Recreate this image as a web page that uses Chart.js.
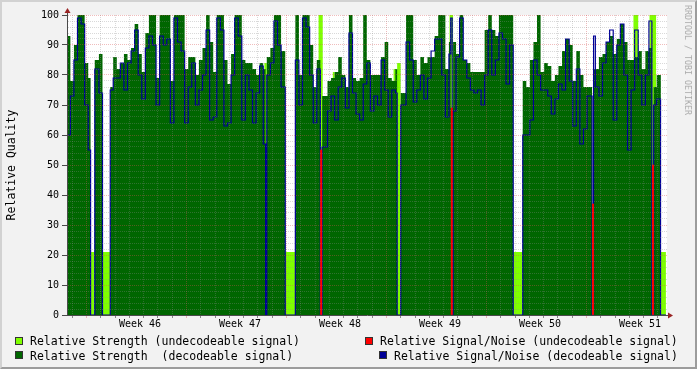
<!DOCTYPE html>
<html>
<head>
<meta charset="utf-8">
<script src="https://cdn.jsdelivr.net/npm/chart.js@4/dist/chart.umd.min.js"></script>
<style>
html, body { margin: 0; padding: 0; background: #f2f2f2; }
#wrap { position: relative; width: 697px; height: 369px; overflow: hidden; font-family: "DejaVu Sans Mono", monospace; color: #000; }
#frame { position: absolute; left: 0; top: 0; width: 697px; height: 369px; box-sizing: border-box;
  border: 2px solid; border-color: #d2d2d2 #9c9c9c #9c9c9c #d2d2d2; background: #f2f2f2; }
#chart { position: absolute; left: 0; top: 0; }
.txt { position: absolute; white-space: pre; font-size: 11.5px; line-height: 14px; }
.box { position: absolute; width: 6px; height: 6px; border: 1px solid #333; }
#ytitle { position: absolute; left: 11px; top: 165px; white-space: nowrap; font-size: 11.5px; line-height: 14px;
  transform: translate(-50%, -50%) rotate(-90deg); }
#mark { position: absolute; left: 688px; top: 60px; white-space: nowrap; font-size: 8.3px; line-height: 10px; color: #ababab;
  transform: translate(-50%, -50%) rotate(90deg); }
</style>
</head>
<body>
<div id="wrap">
  <div id="frame"></div>
  <canvas id="chart" width="697" height="369"></canvas>
  <div id="ytitle">Relative Quality</div>
  <div id="mark">RRDTOOL / TOBI OETIKER</div>
  <div class="box" style="left:15px;top:337px;background:#7fff00"></div>
  <div class="txt" style="left:30px;top:334px">Relative Strength (undecodeable signal)</div>
  <div class="box" style="left:15px;top:351px;background:#006600"></div>
  <div class="txt" style="left:30px;top:349px">Relative Strength  (decodeable signal)</div>
  <div class="box" style="left:365px;top:337px;background:#ff0000"></div>
  <div class="txt" style="left:380px;top:334px">Relative Signal/Noise (undecodeable signal)</div>
  <div class="box" style="left:379px;top:351px;background:#000096"></div>
  <div class="txt" style="left:394px;top:349px">Relative Signal/Noise (decodeable signal)</div>
</div>
<script>
// hours relative to the start of week 46; each value holds until the next hour entry
const hours = [
  -39, -33, -27, -21, -15, -9, -3, 1, 8, 15, 21, 34, 39, 45, 51, 57, 63, 69, 75, 81,
  87, 93, 99, 105, 111, 117, 123, 129, 135, 141, 147, 153, 159, 165, 171, 177, 183, 189, 195, 201,
  207, 213, 219, 225, 231, 237, 243, 249, 255, 261, 267, 273, 279, 285, 291, 295, 297, 303, 309, 315,
  321, 328, 345, 351, 357, 363, 369, 375, 381, 387, 390, 399, 405, 411, 417, 423, 429, 435, 441, 447,
  453, 459, 465, 471, 477, 483, 489, 495, 501, 507, 513, 516, 522, 531, 537, 543, 549, 555, 561, 567,
  573, 579, 585, 591, 597, 603, 606, 608.5, 610, 615, 621, 627, 633, 639, 645, 651, 657, 663, 669, 675,
  681, 687, 693, 699, 705, 711, 727, 733, 739, 745, 751, 757, 763, 769, 775, 781, 787, 793, 799, 805,
  811, 817, 823, 829, 835, 843.5, 846, 849, 855, 861, 867, 873, 879, 885, 891, 897, 903, 909, 915, 921,
  927, 933, 939, 944, 947, 952, 958.5, 959, 967.5
];
const strength = [
  93, 78, 90, 100, 100, 84, 79, 0, 85, 87, 0, 76, 86, 82, 84, 87, 85, 89, 97, 87,
  81, 94, 100, 100, 79, 100, 100, 100, 78, 100, 100, 100, 82, 86, 86, 80, 85, 89, 100, 91,
  81, 100, 100, 85, 77, 87, 100, 100, 85, 84, 84, 82, 80, 84, 82, 0, 86, 89, 100, 100,
  88, 0, 100, 80, 100, 100, 90, 76, 85, 0, 73, 78, 79, 81, 86, 80, 76, 100, 79, 78,
  79, 100, 85, 80, 80, 80, 86, 91, 79, 78, 82, 0, 74, 100, 100, 85, 80, 86, 84, 86,
  86, 93, 100, 100, 82, 91, 69, 69, 91, 87, 100, 85, 84, 81, 81, 81, 81, 95, 100, 95,
  93, 100, 100, 100, 100, 0, 78, 76, 85, 91, 100, 81, 84, 83, 78, 80, 83, 88, 92, 90,
  78, 88, 80, 76, 76, 0, 82, 82, 86, 87, 91, 93, 87, 92, 97, 91, 85, 85, 86, 88,
  82, 88, 89, 0, 76, 80, 80, 0, 0
];
const snr = [
  60, 73, 85, 99, 97, 70, 55, 0, 82, 74, 0, 75, 79, 79, 84, 75, 84, 88, 95, 80,
  72, 89, 93, 90, 70, 93, 90, 92, 64, 99, 91, 88, 64, 76, 84, 70, 75, 80, 95, 65,
  66, 99, 95, 63, 64, 80, 99, 93, 65, 80, 75, 64, 74, 83, 57, 0, 80, 84, 98, 90,
  76, 0, 85, 70, 99, 96, 80, 64, 82, 0, 56, 68, 73, 65, 76, 79, 69, 94, 74, 67,
  65, 77, 84, 68, 73, 70, 85, 75, 66, 75, 74, 0, 70, 91, 85, 71, 75, 80, 72, 79,
  88, 92, 92, 80, 66, 87, 99, 0, 68, 86, 99, 85, 79, 75, 74, 75, 70, 80, 95, 80,
  85, 94, 92, 77, 90, 0, 60, 60, 65, 85, 80, 75, 75, 73, 67, 72, 77, 75, 92, 78,
  63, 82, 57, 62, 73, 0, 93, 76, 73, 84, 91, 95, 65, 90, 97, 80, 55, 75, 95, 80,
  70, 80, 98, 0, 70, 72, 0, 0, 0
];
// undecodeable strength (light green)
const weakHours = [-39, 1, 8, 21, 34, 293, 297, 328, 345, 384, 391, 408, 411, 510, 516, 522,
  604, 610, 711, 727, 913, 921, 940, 951, 959, 967.5];
const weakStrength = [0, 21, 0, 21, 0, 84, 0, 21, 0, 100, 0, 81, 0, 82, 84, 0,
  100, 0, 21, 0, 100, 0, 100, 0, 21, 0];
// undecodeable signal/noise (red spikes)
const weakSnrHours = [388.3, 607.8, 845, 945.8];
const weakSnr = [55, 69, 37, 50];

const weekLabels = ['Week 46', 'Week 47', 'Week 48', 'Week 49', 'Week 50', 'Week 51'];
const AXIS_START = -38.64, AXIS_END = 969.36;

const GRID = 'rgba(140,140,140,0.33)';
const MGRID = 'rgba(215,80,80,0.38)';
const NONE = 'rgba(0,0,0,0)';
const AXIS = '#4a4a4a';
const ARROW = '#9a2424';
const FONT = { family: 'DejaVu Sans Mono', size: 10 };

const pts = (xs, ys) => xs.map((x, i) => ({ x: x, y: ys[i] }));
const tv = c => (c && c.tick ? c.tick.value : NaN);

const decor = {
  id: 'decor',
  beforeDraw(chart) {
    const { ctx, chartArea: a } = chart;
    ctx.save();
    ctx.fillStyle = '#ffffff';
    ctx.fillRect(a.left, a.top, a.right - a.left, a.bottom - a.top);
    ctx.restore();
  },
  afterDraw(chart) {
    const { ctx, chartArea: a } = chart;
    ctx.save();
    ctx.strokeStyle = AXIS;
    ctx.lineWidth = 1;
    ctx.beginPath();
    ctx.moveTo(a.left + 0.5, a.top);
    ctx.lineTo(a.left + 0.5, a.top - 4);
    ctx.moveTo(a.right, a.bottom + 0.5);
    ctx.lineTo(a.right + 4, a.bottom + 0.5);
    ctx.stroke();
    ctx.fillStyle = ARROW;
    ctx.beginPath();
    ctx.moveTo(a.left + 0.5, a.top - 7);
    ctx.lineTo(a.left - 2.5, a.top - 2);
    ctx.lineTo(a.left + 3.5, a.top - 2);
    ctx.closePath();
    ctx.fill();
    ctx.beginPath();
    ctx.moveTo(a.right + 6, a.bottom + 0.5);
    ctx.lineTo(a.right + 1, a.bottom - 2.5);
    ctx.lineTo(a.right + 1, a.bottom + 3.5);
    ctx.closePath();
    ctx.fill();
    ctx.restore();
  }
};

new Chart(document.getElementById('chart'), {
  type: 'line',
  data: {
    datasets: [{
      label: 'Relative Signal/Noise (decodeable signal)',
      data: pts(hours, snr),
      borderColor: '#000096',
      borderWidth: 1.2,
      stepped: 'before',
      fill: false,
      pointRadius: 0,
      order: 1
    }, {
      type: 'bar',
      label: 'Relative Signal/Noise (undecodeable signal)',
      data: pts(weakSnrHours, weakSnr),
      backgroundColor: '#ff0000',
      barThickness: 1.3,
      grouped: false,
      order: 0
    }, {
      label: 'Relative Strength  (decodeable signal)',
      data: pts(hours, strength),
      backgroundColor: '#006600',
      borderWidth: 0,
      stepped: 'before',
      fill: 'origin',
      pointRadius: 0,
      order: 3
    }, {
      label: 'Relative Strength (undecodeable signal)',
      data: pts(weakHours, weakStrength),
      backgroundColor: '#7fff00',
      borderWidth: 0,
      stepped: 'before',
      fill: 'origin',
      pointRadius: 0,
      order: 4
    }]
  },
  options: {
    responsive: false,
    animation: false,
    events: [],
    layout: { padding: { top: 15, right: 30, bottom: 34, left: 0 } },
    plugins: { legend: { display: false }, tooltip: { enabled: false } },
    scales: {
      x: {
        type: 'linear',
        min: AXIS_START,
        max: AXIS_END,
        offset: false,
        afterFit: s => { s.height = 20; },
        afterBuildTicks: s => {
          const t = [];
          for (let v = -36; v <= 960; v += 12) t.push({ value: v });
          s.ticks = t;
        },
        grid: {
          z: 1,
          color: c => tv(c) % 168 === 0 ? MGRID : (tv(c) % 24 === 0 ? GRID : NONE),
          tickColor: c => tv(c) % 168 === 0 ? MGRID : (tv(c) % 24 === 0 ? '#888' : NONE),
          tickLength: 3,
          lineWidth: 1
        },
        border: { display: true, z: 2, color: AXIS, width: 1, dash: [1, 1] },
        ticks: {
          autoSkip: false,
          maxRotation: 0,
          minRotation: 0,
          padding: 0,
          color: '#000',
          font: FONT,
          callback: v => ((v - 84) % 168 === 0 ? weekLabels[(v - 84) / 168] : '')
        }
      },
      y: {
        type: 'linear',
        min: 0,
        max: 100,
        afterFit: s => { s.width = 67; },
        afterBuildTicks: s => {
          const t = [];
          for (let v = 0; v <= 100; v += 2) t.push({ value: v });
          s.ticks = t;
        },
        grid: {
          z: 1,
          color: c => tv(c) % 10 === 0 ? MGRID : GRID,
          tickColor: c => tv(c) % 10 === 0 ? AXIS : NONE,
          tickLength: 5,
          lineWidth: 1
        },
        border: { display: true, z: 2, color: AXIS, width: 1, dash: [1, 1] },
        ticks: {
          autoSkip: false,
          padding: 3,
          color: '#000',
          font: FONT,
          callback: v => (v % 10 === 0 ? String(v) : '')
        }
      }
    }
  },
  plugins: [decor]
});
</script>
</body>
</html>
